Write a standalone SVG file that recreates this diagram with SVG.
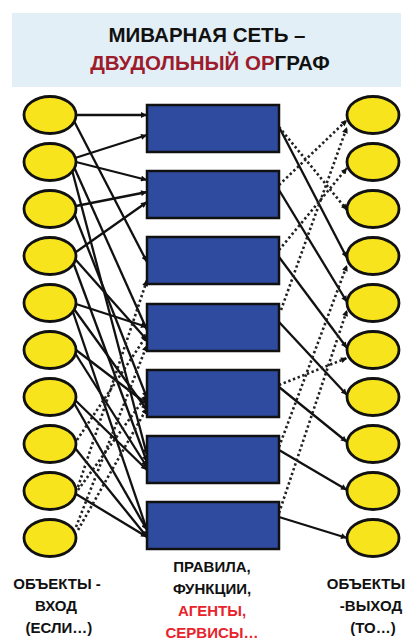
<svg xmlns="http://www.w3.org/2000/svg" width="417" height="641" viewBox="0 0 417 641">
<style>
.t{font-family:"Liberation Sans",Arial,sans-serif;font-weight:bold;text-anchor:middle}
.el{fill:#f7e41c;stroke:#111;stroke-width:2.8}
.rc{fill:#2f4b9f;stroke:#111;stroke-width:2.5}
.s{fill:none;stroke:#111;stroke-width:2.3;marker-end:url(#ah)}
.d{fill:none;stroke:#222;stroke-width:2.6;stroke-dasharray:2.4 2.6;marker-end:url(#ah)}
</style>
<defs>
<marker id="ah" viewBox="0 0 10 10" refX="10" refY="5" markerWidth="7" markerHeight="6" markerUnits="userSpaceOnUse" orient="auto">
<path d="M0,0 L10,5 L0,10 z" fill="#111"/>
</marker>
</defs>
<rect width="417" height="641" fill="#fff"/>
<g id="title">
<rect x="12" y="13" width="389" height="74" fill="#e3eff7"/>
<text class="t" x="207" y="42" font-size="20.5" fill="#111">МИВАРНАЯ СЕТЬ –</text>
<text class="t" x="210" y="70" font-size="20.5" fill="#111"><tspan fill="#9c1c2c">ДВУДОЛЬНЫЙ ОР</tspan>ГРАФ</text>
</g>
<g id="connectors">
<path class="s" d="M76,115 L147,115"/>
<path class="s" d="M74,121 L147,262"/>
<path class="s" d="M75,158 L147,135"/>
<path class="s" d="M76,162 L147,180"/>
<path class="s" d="M74,167 L147,330"/>
<path class="s" d="M72,170 L147,455"/>
<path class="s" d="M76,206 L147,192"/>
<path class="s" d="M74,213 L147,398"/>
<path class="s" d="M76,252 L147,202"/>
<path class="s" d="M75,259 L147,340"/>
<path class="s" d="M73,262 L147,462"/>
<path class="s" d="M76,304 L147,327"/>
<path class="s" d="M74,309 L147,410"/>
<path class="s" d="M73,312 L147,530"/>
<path class="s" d="M76,350 L147,404"/>
<path class="s" d="M75,353 L147,467"/>
<path class="s" d="M75,400 L147,470"/>
<path class="s" d="M74,403 L147,530"/>
<path class="s" d="M75,448 L147,537"/>
<path class="s" d="M76,494 L147,537"/>
<path class="d" d="M78,530 L147,408"/>
<path class="d" d="M76,527 L147,345"/>
<path class="d" d="M78,487 L147,280"/>
<path class="d" d="M78,490 L147,395"/>
<path class="d" d="M77,440 L147,335"/>
<path class="s" d="M279,127 L347,258"/>
<path class="s" d="M279,190 L347,302"/>
<path class="s" d="M279,257 L347,348"/>
<path class="s" d="M279,322 L347,395"/>
<path class="s" d="M279,387 L347,442"/>
<path class="s" d="M279,450 L347,490"/>
<path class="s" d="M279,517 L347,538"/>
<path class="d" d="M279,127 L347,210"/>
<path class="d" d="M279,185 L347,120"/>
<path class="d" d="M279,250 L347,168"/>
<path class="d" d="M281,310 L347,127"/>
<path class="d" d="M279,385 L347,358"/>
<path class="d" d="M279,447 L347,265"/>
<path class="d" d="M279,513 L347,310"/>
</g>
<g id="in0"><ellipse class="el" cx="50" cy="115" rx="26" ry="18.5"/></g>
<g id="in1"><ellipse class="el" cx="50" cy="162" rx="26" ry="18.5"/></g>
<g id="in2"><ellipse class="el" cx="50" cy="209" rx="26" ry="18.5"/></g>
<g id="in3"><ellipse class="el" cx="50" cy="256" rx="26" ry="18.5"/></g>
<g id="in4"><ellipse class="el" cx="50" cy="303" rx="26" ry="18.5"/></g>
<g id="in5"><ellipse class="el" cx="50" cy="350" rx="26" ry="18.5"/></g>
<g id="in6"><ellipse class="el" cx="50" cy="397" rx="26" ry="18.5"/></g>
<g id="in7"><ellipse class="el" cx="50" cy="444" rx="26" ry="18.5"/></g>
<g id="in8"><ellipse class="el" cx="50" cy="491" rx="26" ry="18.5"/></g>
<g id="in9"><ellipse class="el" cx="50" cy="538" rx="26" ry="18.5"/></g>
<g id="r0"><rect class="rc" x="147" y="105" width="132" height="47"/></g>
<g id="r1"><rect class="rc" x="147" y="171" width="132" height="47"/></g>
<g id="r2"><rect class="rc" x="147" y="237" width="132" height="47"/></g>
<g id="r3"><rect class="rc" x="147" y="304" width="132" height="47"/></g>
<g id="r4"><rect class="rc" x="147" y="370" width="132" height="47"/></g>
<g id="r5"><rect class="rc" x="147" y="436" width="132" height="47"/></g>
<g id="r6"><rect class="rc" x="147" y="502" width="132" height="47"/></g>
<g id="out0"><ellipse class="el" cx="373" cy="115" rx="26" ry="18.5"/></g>
<g id="out1"><ellipse class="el" cx="373" cy="162" rx="26" ry="18.5"/></g>
<g id="out2"><ellipse class="el" cx="373" cy="209" rx="26" ry="18.5"/></g>
<g id="out3"><ellipse class="el" cx="373" cy="256" rx="26" ry="18.5"/></g>
<g id="out4"><ellipse class="el" cx="373" cy="303" rx="26" ry="18.5"/></g>
<g id="out5"><ellipse class="el" cx="373" cy="350" rx="26" ry="18.5"/></g>
<g id="out6"><ellipse class="el" cx="373" cy="397" rx="26" ry="18.5"/></g>
<g id="out7"><ellipse class="el" cx="373" cy="444" rx="26" ry="18.5"/></g>
<g id="out8"><ellipse class="el" cx="373" cy="491" rx="26" ry="18.5"/></g>
<g id="out9"><ellipse class="el" cx="373" cy="538" rx="26" ry="18.5"/></g>
<g id="label-in" font-size="15" fill="#111">
<text class="t" x="57" y="589">ОБЪЕКТЫ -</text>
<text class="t" x="56" y="611">ВХОД</text>
<text class="t" x="59" y="633">(ЕСЛИ…)</text>
</g>
<g id="label-mid" font-size="15">
<text class="t" x="212" y="572" fill="#111">ПРАВИЛА,</text>
<text class="t" x="212" y="594" fill="#111">ФУНКЦИИ,</text>
<text class="t" x="212" y="616" fill="#e8232b">АГЕНТЫ,</text>
<text class="t" x="212" y="638" fill="#e8232b">СЕРВИСЫ…</text>
</g>
<g id="label-out" font-size="15" fill="#111">
<text class="t" x="366" y="589">ОБЪЕКТЫ</text>
<text class="t" x="371" y="611">-ВЫХОД</text>
<text class="t" x="373" y="633">(ТО…)</text>
</g>
</svg>
